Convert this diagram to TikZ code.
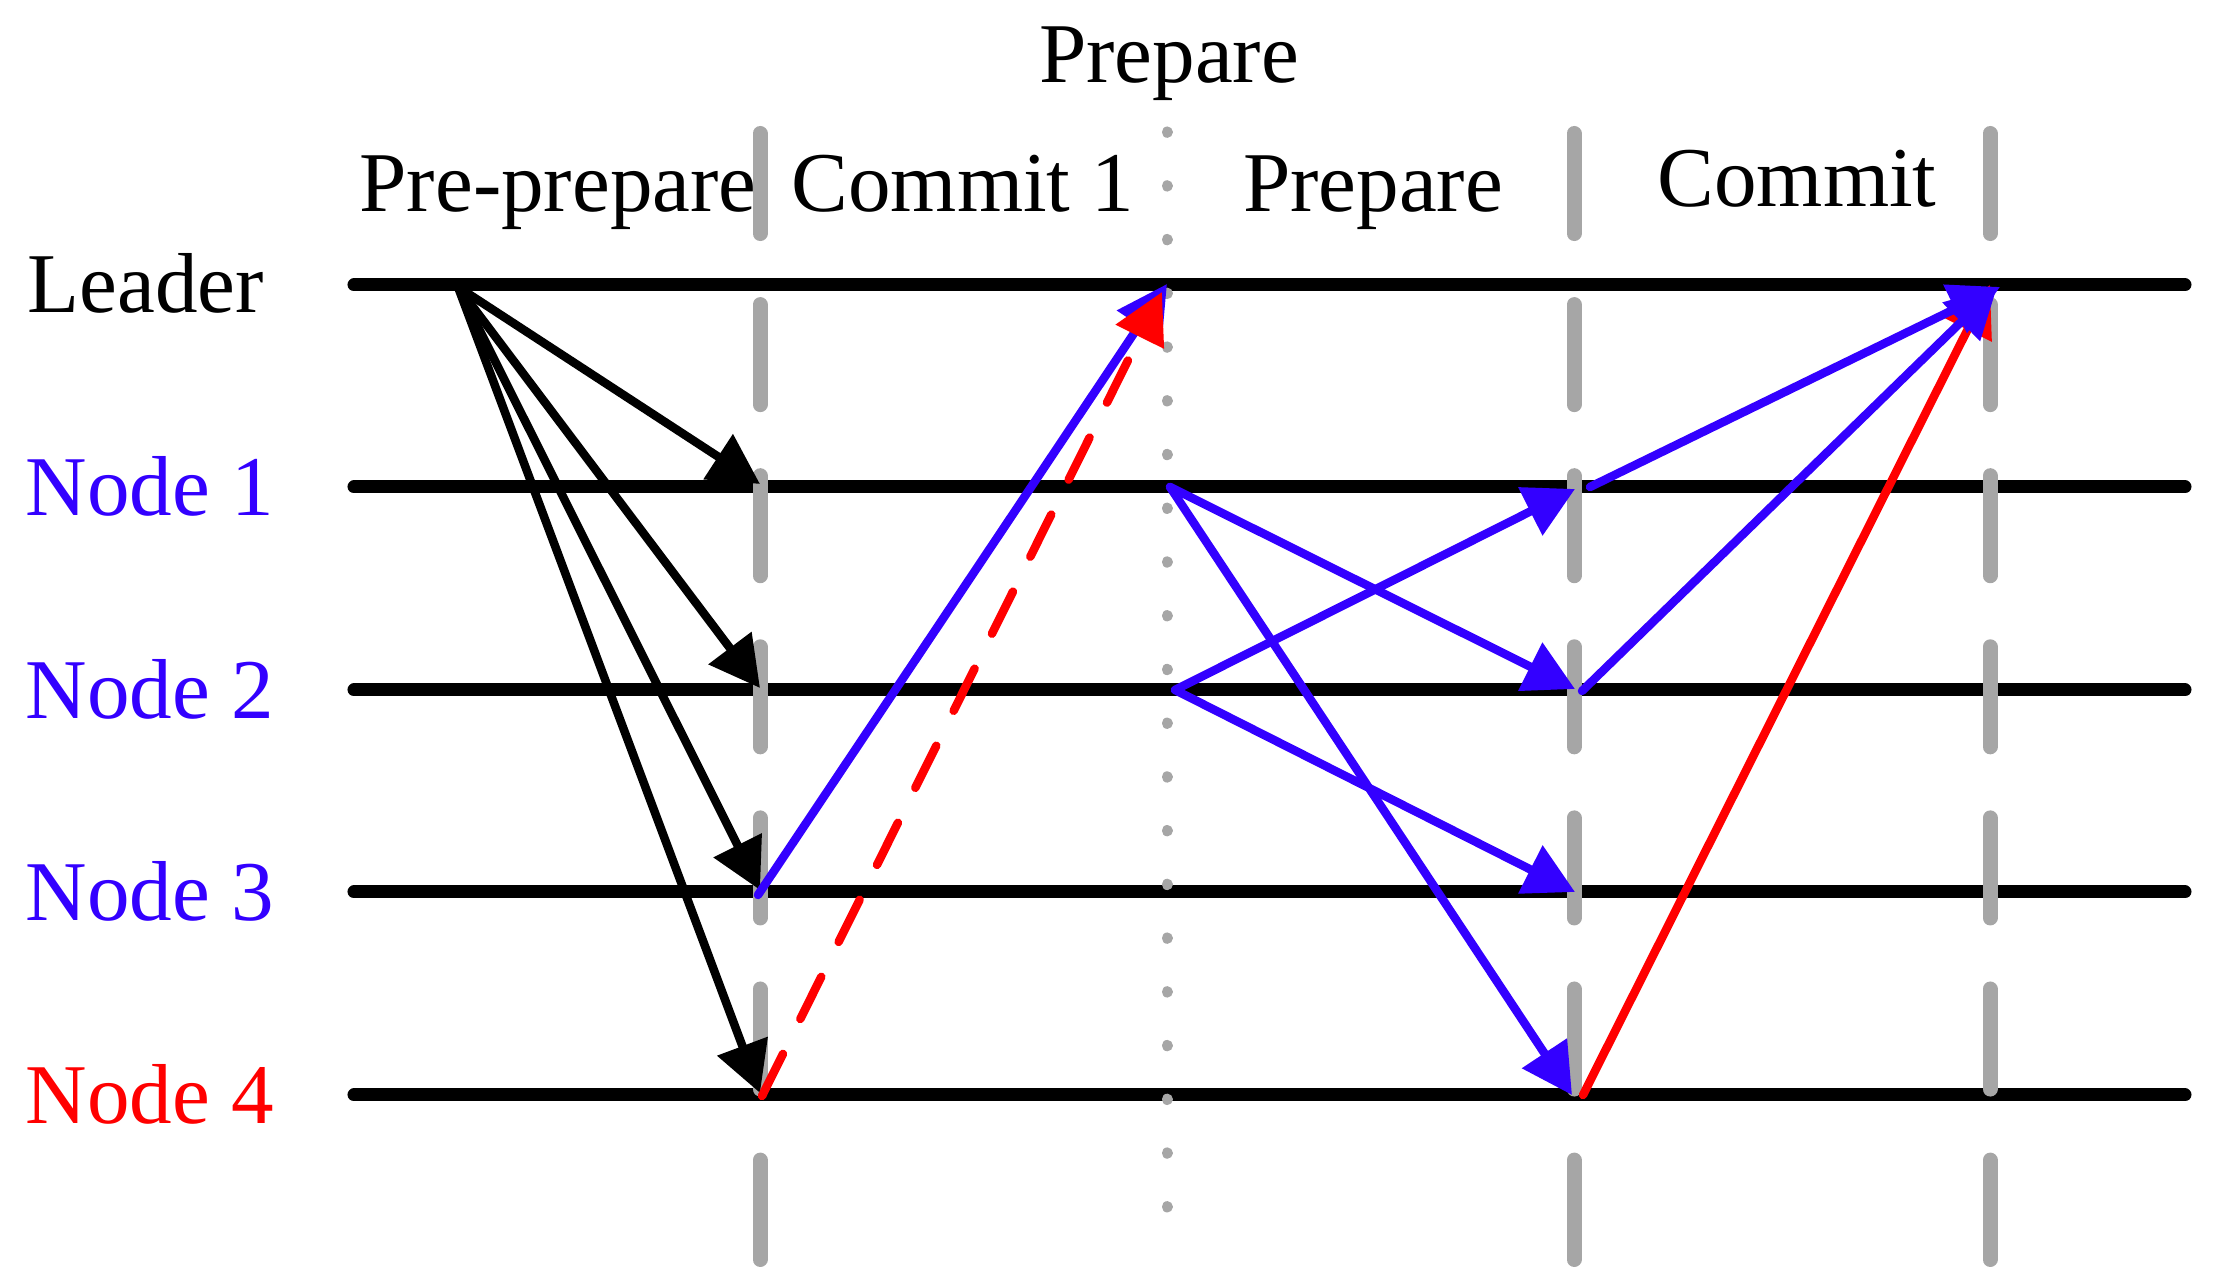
\documentclass[tikz,border=0pt]{standalone}
\usepackage{fontspec}
\setmainfont{Liberation Serif}
\usetikzlibrary{arrows.meta}
\definecolor{msgblue}{RGB}{51,0,255}
\definecolor{divgray}{RGB}{166,166,166}

\begin{document}
\begin{tikzpicture}[x=0.01cm,y=-0.01cm,
    lane/.style={line width=0.13cm,line cap=round},
    divider/.style={divgray,line width=0.15cm,line cap=round,dash pattern=on 1cm off 0.71cm},
    dotdiv/.style={divgray,line width=0.11cm,line cap=round,dash pattern=on 0.1pt off 0.5335cm},
    msg/.style={line width=0.085cm,line cap=round,-{Triangle[length=0.5cm,width=0.52cm]}},
    lbl/.style={inner sep=0,anchor=base west,font=\fontsize{24.2pt}{29pt}\selectfont},
    phase/.style={inner sep=0,anchor=base,font=\fontsize{24.2pt}{29pt}\selectfont}]
        \useasboundingbox (0,0) rectangle (2220,1280);
        \node[phase] (prep0) at (1169,83) {Prepare};
        \node[phase] (preprep) at (558,212) {Pre-prepare};
        \node[phase] (commit1) at (963,212) {Commit 1};
        \node[phase] (prep) at (1373,212) {Prepare};
        \node[phase] (commit) at (1797,207) {Commit};
        \node[lbl] (leader) at (27,313) {Leader};
        \node[lbl,text=msgblue] (node1) at (25,515.5) {Node 1};
        \node[lbl,text=msgblue] (node2) at (25,718.5) {Node 2};
        \node[lbl,text=msgblue] (node3) at (25,920.5) {Node 3};
        \node[lbl,text=red] (node4) at (25,1123.5) {Node 4};
        \draw[lane] (354,285)--(2185,285);
        \draw[lane] (354,487)--(2185,487);
        \draw[lane] (354,690)--(2185,690);
        \draw[lane] (354,892)--(2185,892);
        \draw[lane] (354,1095)--(2185,1095);
        \draw[divider] (760,133.5)--(760,1259.5);
        \draw[dotdiv] (1167,132)--(1167,1215);
        \draw[divider] (1574,133.5)--(1574,1259.5);
        \draw[divider] (1990,133.5)--(1990,1259.5);
        \coordinate (ls) at (458,287);
        \coordinate (n1a) at (760,484);
        \coordinate (n2a) at (760,688);
        \coordinate (n3a) at (760,890);
        \coordinate (n4a) at (760,1093);
        \coordinate (n3b) at (758,895);
        \coordinate (n4b) at (762,1096);
        \coordinate (lb) at (1167,284);
        \coordinate (lr) at (1162,292);
        \coordinate (n1c) at (1170,487);
        \coordinate (n2c) at (1175,690);
        \coordinate (n1d) at (1575,489);
        \coordinate (n2d) at (1575,689);
        \coordinate (n3d) at (1575,892);
        \coordinate (n4d) at (1572,1095);
        \coordinate (n1e) at (1590,487);
        \coordinate (n2e) at (1582,691);
        \coordinate (n4e) at (1583,1095);
        \coordinate (lc) at (2000,287);
        \coordinate (lc2) at (1997,287);
        \coordinate (lr2) at (1990,285);
        \draw[msg] (ls)--(n1a);
        \draw[msg] (ls)--(n2a);
        \draw[msg] (ls)--(n3a);
        \draw[msg] (ls)--(n4a);
        \draw[msg,msgblue] (n3b)--(lb);
        \draw[msg,red,dash pattern=on 0.47cm off 0.39cm] (n4b)--(lr);
        \draw[msg,msgblue] (n1c)--(n2d);
        \draw[msg,msgblue] (n1c)--(n4d);
        \draw[msg,msgblue] (n2c)--(n1d);
        \draw[msg,msgblue] (n2c)--(n3d);
        \draw[msg,red] (n4e)--(lr2);
        \draw[msg,msgblue] (n1e)--(lc);
        \draw[msg,msgblue] (n2e)--(lc2);
    \end{tikzpicture}
\end{document}
